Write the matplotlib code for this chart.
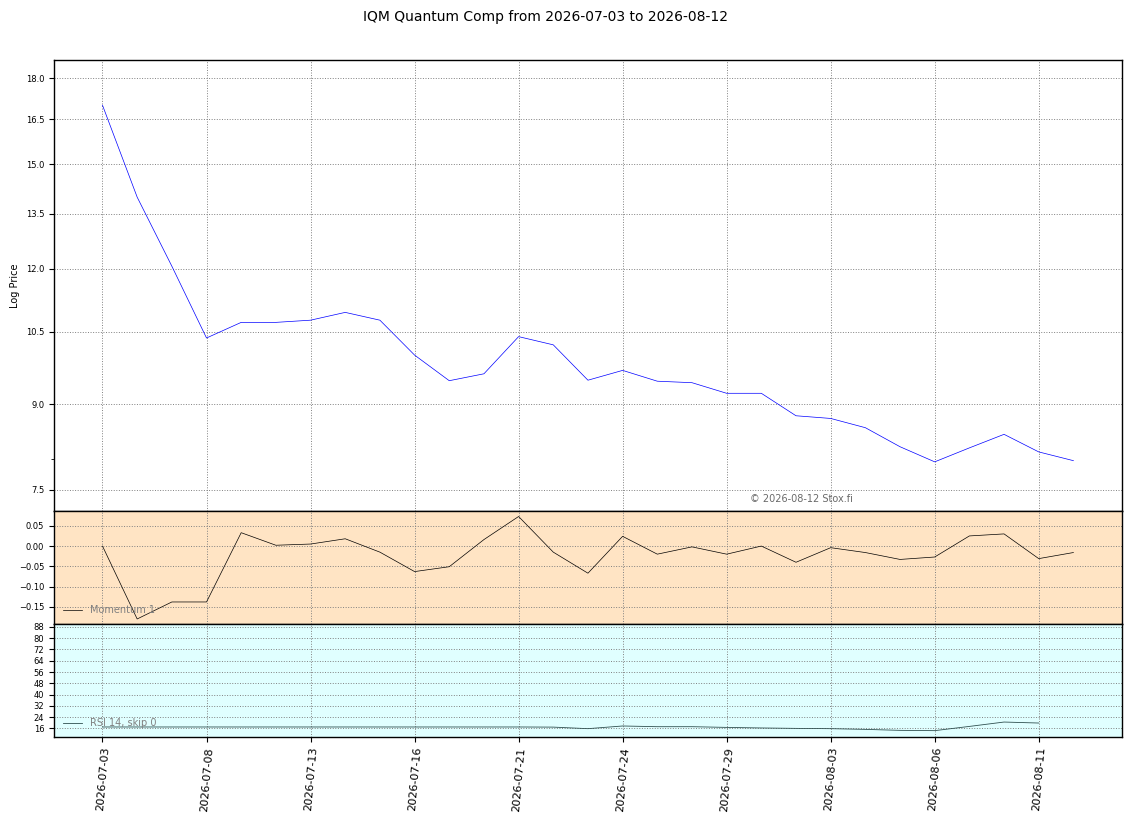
import matplotlib
matplotlib.use("Agg")
import matplotlib.pyplot as plt
from matplotlib.ticker import FormatStrFormatter, NullFormatter

# trading days shown on the chart
dates = ["2026-07-03", "2026-07-06", "2026-07-07", "2026-07-08", "2026-07-09",
         "2026-07-10", "2026-07-13", "2026-07-14", "2026-07-15", "2026-07-16",
         "2026-07-17", "2026-07-20", "2026-07-21", "2026-07-22", "2026-07-23",
         "2026-07-24", "2026-07-27", "2026-07-28", "2026-07-29", "2026-07-30",
         "2026-07-31", "2026-08-03", "2026-08-04", "2026-08-05", "2026-08-06",
         "2026-08-07", "2026-08-10", "2026-08-11", "2026-08-12"]

price = [17.0, 13.98, 12.07, 10.36, 10.71, 10.71, 10.76, 10.94, 10.76, 9.99,
         9.46, 9.60, 10.39, 10.21, 9.47, 9.67, 9.45, 9.42, 9.21, 9.21,
         8.78, 8.73, 8.56, 8.22, 7.96, 8.20, 8.44, 8.13, 7.98]

momentum = [0.0, -0.180, -0.138, -0.138, 0.033, 0.002, 0.005, 0.018, -0.015, -0.063,
            -0.051, 0.016, 0.073, -0.015, -0.067, 0.024, -0.020, -0.002, -0.020, 0.000,
            -0.040, -0.004, -0.016, -0.033, -0.027, 0.025, 0.030, -0.031, -0.016]

# RSI stops one day before the last price
rsi = [17.0, 17.0, 17.0, 17.0, 17.0, 17.0, 17.0, 17.0, 17.0, 17.0,
       17.0, 17.0, 17.0, 16.9, 15.8, 17.7, 17.2, 17.2, 16.7, 16.3,
       16.0, 15.8, 15.3, 14.6, 14.4, 17.4, 20.5, 19.8]

price_ticks = [7.5, 9.0, 10.5, 12.0, 13.5, 15.0, 16.5, 18.0]
rsi_ticks = [16, 24, 32, 40, 48, 56, 64, 72, 80, 88]

x = list(range(len(dates)))
tick_idx = x[::3]

fig = plt.figure(figsize=(11.31, 8.22), dpi=100)
gs = fig.add_gridspec(3, 1, height_ratios=[4, 1, 1], hspace=0,
                      left=0.0477, right=0.992, top=0.9265, bottom=0.1036)
ax1 = fig.add_subplot(gs[0])
ax2 = fig.add_subplot(gs[1], sharex=ax1)
ax3 = fig.add_subplot(gs[2], sharex=ax1)

fig.suptitle("IQM Quantum Comp from 2026-07-03 to 2026-08-12", fontsize=10, x=0.482, y=0.988)

# price panel
ax1.plot(x, price, color="blue", lw=0.5)
ax1.set_yscale("log")
ax1.set_ylim(min(price) * 0.9, max(price) * 1.1)
ax1.set_yticks(price_ticks)
ax1.yaxis.set_major_formatter(FormatStrFormatter("%.1f"))
ax1.yaxis.set_minor_formatter(NullFormatter())
ax1.set_ylabel("Log Price", fontsize=7)
ax1.text(0.652, 0.017, "\u00a9 2026-08-12 Stox.fi", transform=ax1.transAxes,
         fontsize=7, color="dimgray", va="bottom")

# momentum panel
ax2.set_facecolor("bisque")
ax2.plot(x, momentum, color="black", lw=0.5, label="Momentum 1")
ax2.legend(loc="lower left", frameon=False, fontsize=7, labelcolor="gray")

# rsi panel
ax3.set_facecolor("lightcyan")
ax3.plot(x[:len(rsi)], rsi, color="darkslategray", lw=0.6, label="RSI 14, skip 0")
ax3.set_ylim(10, 90)
ax3.set_yticks(rsi_ticks)
ax3.legend(loc="lower left", frameon=False, fontsize=7, labelcolor="gray")

for ax in (ax1, ax2, ax3):
    ax.grid(True, which="major", linestyle=":", color="gray", lw=0.7)
    ax.tick_params(axis="y", labelsize=6)
    for s in ax.spines.values():
        s.set_linewidth(1.0)

ax3.set_xticks(tick_idx)
ax3.set_xticklabels([dates[i] for i in tick_idx], rotation=85, fontsize=8)
ax1.tick_params(axis="x", labelbottom=False)
ax2.tick_params(axis="x", labelbottom=False)

plt.savefig("out.png", dpi=100)
